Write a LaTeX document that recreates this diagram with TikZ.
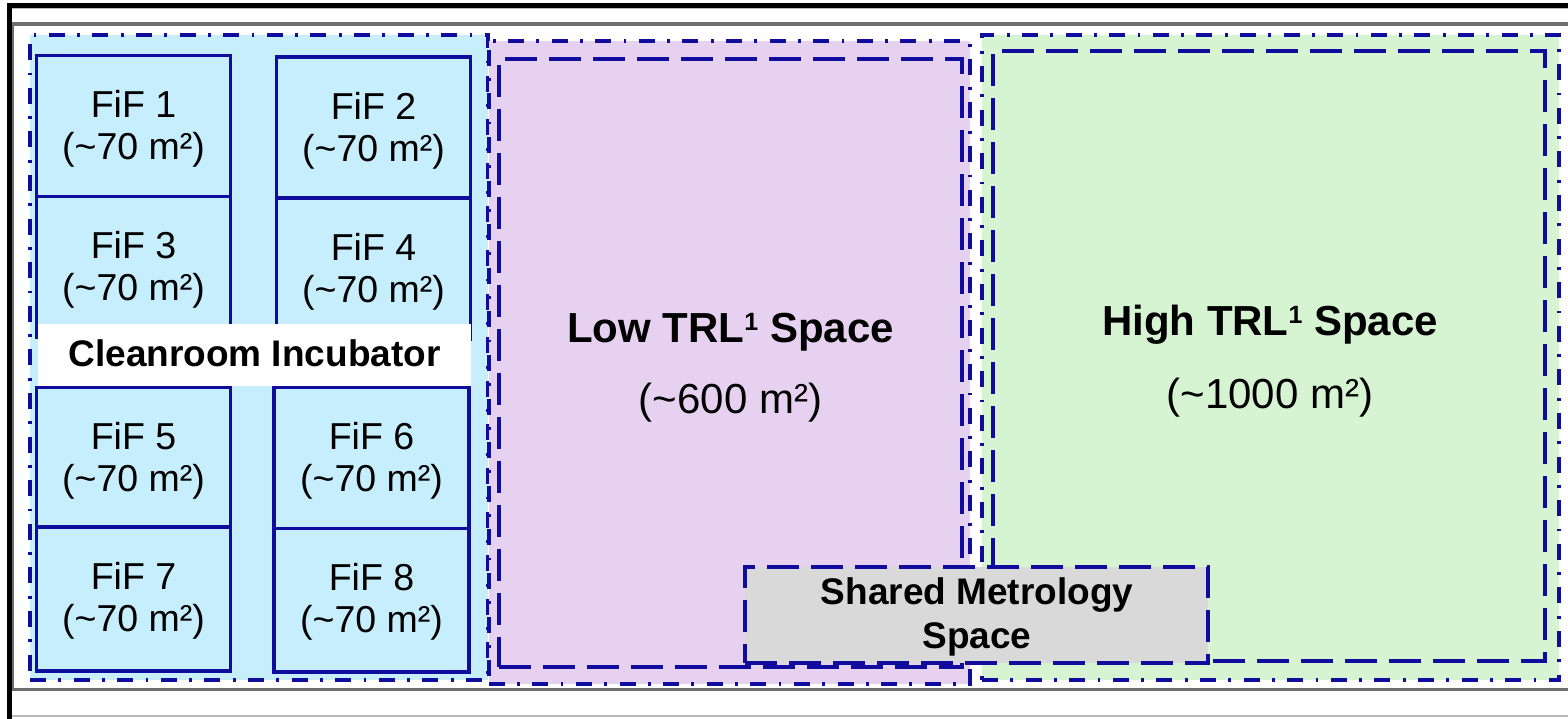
\documentclass[tikz,border=0pt]{standalone}
\usepackage{fontspec}
\setmainfont{Liberation Sans}
\definecolor{bline}{RGB}{16,12,158}
\definecolor{cleanfill}{RGB}{198,238,252}
\definecolor{lavfill}{RGB}{230,210,240}
\definecolor{grnfill}{RGB}{214,244,210}
\definecolor{metfill}{RGB}{217,217,217}
\definecolor{framegray}{RGB}{110,110,110}
\definecolor{lightframe}{RGB}{185,185,185}
\newcommand{\supone}{{\fontsize{25}{25}\selectfont\raisebox{12.5pt}{1}}}
\tikzset{
  area/.style={rectangle, inner sep=0pt, outer sep=0pt, anchor=north west},
  dashdotline/.style={draw=bline, line width=4pt, dash pattern=on 16pt off 12.3pt on 2.8pt off 12.5pt},
  dashline/.style={draw=bline, line width=4pt, dash pattern=on 32pt off 12pt},
  fifbox/.style={area, draw=bline, fill=cleanfill, line width=3.6pt},
  fiftext/.style={anchor=base, inner sep=0pt, font=\fontsize{37.5}{40}\selectfont},
  bigbold/.style={anchor=base, inner sep=0pt, font=\bfseries\fontsize{42}{46}\selectfont},
  bigreg/.style={anchor=base, inner sep=0pt, font=\fontsize{42}{46}\selectfont},
  midbold/.style={anchor=base, inner sep=0pt, font=\bfseries\fontsize{37}{40}\selectfont},
}
\begin{document}
\begin{tikzpicture}[x=1pt,y=-1pt]
\useasboundingbox (0,0) rectangle (1568,718);
% frame
\draw[lightframe, line width=2pt] (12,716) -- (1572,716);
\draw[lightframe, line width=1pt] (12,8.8) -- (1572,8.8);
\draw[framegray, line width=3.6pt] (1572,23.7) -- (11.7,23.7) -- (11.7,689.5) -- (1572,689.5);
\draw[black, line width=5pt] (9.2,722) -- (9.2,5.8) -- (1572,5.8);
% regions
\node[area, fill=cleanfill, dashdotline, minimum width=458pt, minimum height=644.7pt] (clean) at (30,35.3) {};
\node[area, fill=lavfill, dashdotline, minimum width=481.3pt, minimum height=642.2pt] (lowarea) at (488.7,41.3) {};
\node[area, dashline, minimum width=463pt, minimum height=608pt] (lowin) at (498.7,58.7) {};
\node[area, fill=grnfill, dashdotline, minimum width=577.3pt, minimum height=645.3pt] (higharea) at (982,34.7) {};
\node[area, dashline, minimum width=551.7pt, minimum height=609.7pt] (highin) at (993.3,51) {};
% FiF boxes
\node[fifbox, minimum width=194pt, minimum height=141pt] (f1) at (36.5,55.5) {};
\node[fifbox, minimum width=194pt, minimum height=141pt] (f2) at (276.5,57) {};
\node[fifbox, minimum width=194pt, minimum height=141pt] (f3) at (36.5,196.5) {};
\node[fifbox, minimum width=194pt, minimum height=141pt] (f4) at (276.5,198) {};
\node[fifbox, minimum width=194pt, minimum height=139.5pt] (f5) at (36.5,387.5) {};
\node[fifbox, minimum width=195pt, minimum height=140.8pt] (f6) at (274,387.5) {};
\node[fifbox, minimum width=194pt, minimum height=143.7pt] (f7) at (36.5,527) {};
\node[fifbox, minimum width=195pt, minimum height=143.4pt] (f8) at (274,528.3) {};
\foreach \i in {1,...,8}{
  \node[fiftext] (f\i a) at ([yshift=-62pt]f\i.north) {FiF \i};
  \node[fiftext] (f\i b) at ([yshift=-104pt]f\i.north) {(\textasciitilde70 m²)};
}
% cleanroom label
\node[area, fill=white, minimum width=432.4pt, minimum height=62pt] (labbox) at (38.3,324) {};
\node[midbold] (lab) at (254.5,366.7) {Cleanroom Incubator};
% big labels
\node[bigbold] (lowt) at (730.5,342.7) {Low TRL\supone\ Space};
\node[bigreg] (lowa) at (730.5,413.3) {(\textasciitilde600 m²)};
\node[bigbold] (hight) at (1270,335.7) {High TRL\supone\ Space};
\node[bigreg] (higha) at (1270,408.3) {(\textasciitilde1000 m²)};
% shared metrology
\node[area, fill=metfill, dashline, minimum width=463.4pt, minimum height=96pt] (metro) at (744.6,566.7) {};
\node[midbold] (metroa) at (977,604.3) {Shared Metrology};
\node[midbold] (metrob) at (977,648.3) {Space};
\end{tikzpicture}
\end{document}
